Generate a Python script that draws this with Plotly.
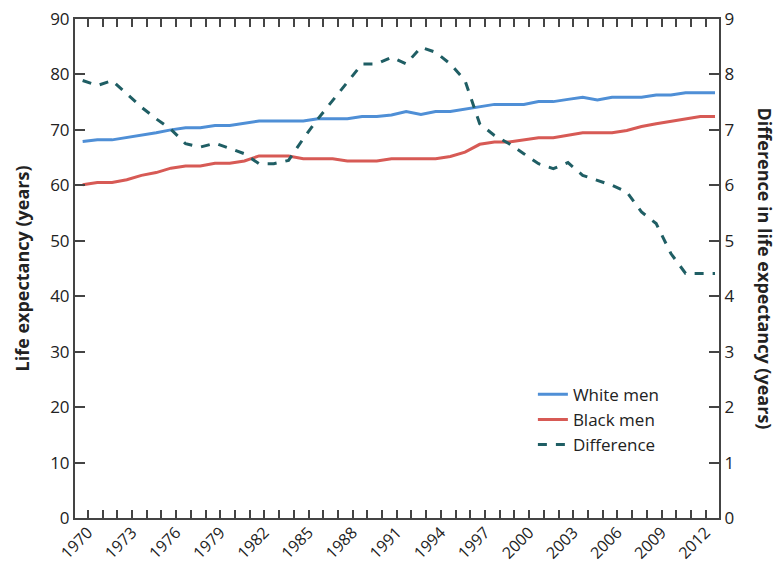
import plotly.graph_objects as go

years = list(range(1970, 2014))
white_men = [67.9, 68.2, 68.2, 68.6, 69.0, 69.5, 70.0, 70.4, 70.4, 70.8,
             70.8, 71.2, 71.6, 71.6, 71.6, 71.6, 72.0, 72.0, 72.0, 72.4,
             72.4, 72.7, 73.3, 72.8, 73.3, 73.3, 73.7, 74.2, 74.6, 74.6,
             74.6, 75.1, 75.1, 75.5, 75.9, 75.4, 75.9, 75.9, 75.9, 76.3,
             76.3, 76.7, 76.7, 76.7]
black_men = [60.1, 60.5, 60.5, 61.0, 61.8, 62.3, 63.1, 63.5, 63.5, 64.0,
             64.0, 64.4, 65.3, 65.3, 65.3, 64.8, 64.8, 64.8, 64.4, 64.4,
             64.4, 64.8, 64.8, 64.8, 64.8, 65.2, 66.0, 67.4, 67.8, 67.8,
             68.2, 68.6, 68.6, 69.1, 69.5, 69.5, 69.5, 69.9, 70.6, 71.1,
             71.5, 72.0, 72.4, 72.4]
difference = [7.89, 7.80, 7.89, 7.65, 7.41, 7.20, 7.01, 6.75, 6.69, 6.76,
              6.66, 6.57, 6.39, 6.39, 6.45, 6.84, 7.20, 7.53, 7.86, 8.19,
              8.19, 8.31, 8.19, 8.49, 8.40, 8.19, 7.89, 7.11, 6.90, 6.75,
              6.57, 6.39, 6.30, 6.41, 6.18, 6.09, 6.00, 5.88, 5.52, 5.31,
              4.77, 4.41, 4.41, 4.41]
tick_years = list(range(1970, 2013))
tick_labels = [str(y) if (y - 1970) % 3 == 0 else "" for y in tick_years]
left_ticks = list(range(0, 91, 10))
right_ticks = list(range(0, 10))

BLUE = "#4F8FD6"
RED = "#D75A55"
TEAL = "#1F5E64"
AXIS = "#444444"
TEXT = "#222222"
FONT = "Open Sans"

fig = go.Figure()
fig.add_trace(go.Scatter(x=years, y=white_men, name="White men", mode="lines",
                         line=dict(color=BLUE, width=3)))
fig.add_trace(go.Scatter(x=years, y=black_men, name="Black men", mode="lines",
                         line=dict(color=RED, width=3)))
fig.add_trace(go.Scatter(x=years, y=difference, name="Difference", mode="lines",
                         yaxis="y2", line=dict(color=TEAL, width=3, dash="dash")))

fig.update_layout(
    width=778, height=564,
    margin=dict(l=75, r=59, t=19, b=46),
    paper_bgcolor="white", plot_bgcolor="white",
    font=dict(family=FONT, size=17, color=TEXT),
    showlegend=True,
    legend=dict(x=0.711, y=0.283, xanchor="left", yanchor="top",
                bgcolor="rgba(0,0,0,0)", font=dict(size=17, color=TEXT),
                tracegroupgap=0, itemwidth=30),
    xaxis=dict(
        range=[1969.48, 2013.27],
        tickmode="array",
        tickvals=[y + 0.36 for y in tick_years],
        ticktext=tick_labels,
        tickangle=-45,
        ticks="inside", ticklen=8, tickwidth=1.5, tickcolor=AXIS,
        showline=True, linecolor=AXIS, linewidth=2, mirror="ticks",
        showgrid=False, zeroline=False, automargin=False,
        ticklabelstandoff=-3,
        tickfont=dict(size=16),
    ),
    yaxis=dict(
        range=[0, 90],
        tickvals=left_ticks,
        ticks="inside", ticklen=10, tickwidth=1.5, tickcolor=AXIS,
        showline=True, linecolor=AXIS, linewidth=2,
        showgrid=False, zeroline=False, automargin=False,
        tickfont=dict(size=17),
    ),
    yaxis2=dict(
        range=[0, 9],
        tickvals=right_ticks,
        overlaying="y", side="right",
        ticks="inside", ticklen=10, tickwidth=1.5, tickcolor=AXIS,
        showline=True, linecolor=AXIS, linewidth=2,
        showgrid=False, zeroline=False, automargin=False,
        tickfont=dict(size=17),
    ),
)

fig.add_annotation(text="<b>Life expectancy (years)</b>",
                   xref="paper", yref="paper", x=0.0, y=0.5,
                   xanchor="center", yanchor="middle",
                   xshift=-54, textangle=-90, showarrow=False,
                   font=dict(size=18, family=FONT, color=TEXT))
fig.add_annotation(text="<b>Difference in life expectancy (years)</b>",
                   xref="paper", yref="paper", x=1.0, y=0.5,
                   xanchor="center", yanchor="middle",
                   xshift=46, textangle=90, showarrow=False,
                   font=dict(size=18, family=FONT, color=TEXT))

fig.write_html("out.html", config={"displayModeBar": False},
               post_script="document.body.style.margin='0';")
